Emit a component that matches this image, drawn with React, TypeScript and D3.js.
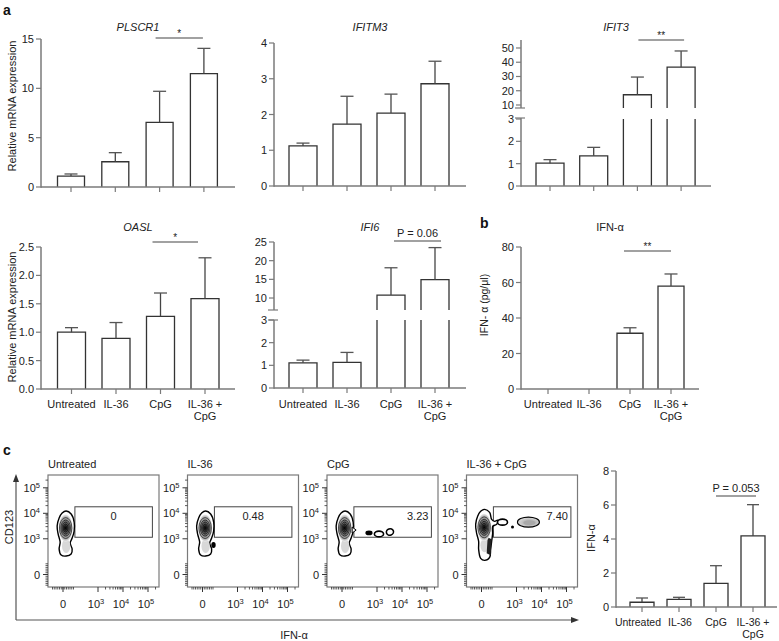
import React from 'react';
import * as d3 from 'd3';

const FONT = '"Liberation Sans", Arial, Helvetica, sans-serif';
const AXIS = '#7a7a7a';
const INK = '#222';

const categories = ['Untreated', 'IL-36', 'CpG', 'IL-36 + CpG'];
const categoryLines: string[][] = [['Untreated'], ['IL-36'], ['CpG'], ['IL-36 +', 'CpG']];

const plscr1Mean = [1.11, 2.56, 6.55, 11.5];
const plscr1Upper = [1.32, 3.48, 9.7, 14.05];
const ifitm3Mean = [1.12, 1.73, 2.04, 2.86];
const ifitm3Upper = [1.2, 2.51, 2.57, 3.49];
const ifit3Mean = [1.02, 1.35, 17.2, 36.5];
const ifit3Upper = [1.18, 1.73, 29.6, 47.9];
const oaslMean = [1.0, 0.89, 1.28, 1.59];
const oaslUpper = [1.08, 1.17, 1.69, 2.31];
const ifi6Mean = [1.11, 1.13, 10.8, 14.9];
const ifi6Upper = [1.23, 1.57, 18.1, 23.5];
const elisaMean = [0, 0, 31.4, 58];
const elisaUpper = [0, 0, 34.5, 64.8];
const flowBarMean = [0.28, 0.45, 1.39, 4.18];
const flowBarUpper = [0.53, 0.57, 2.43, 6.02];

const plscr1Ticks = [0, 5, 10, 15];
const ifitm3Ticks = [0, 1, 2, 3, 4];
const ifit3LowerTicks = [0, 1, 2, 3];
const ifit3UpperTicks = [10, 20, 30, 40, 50];
const oaslTicks = [0, 0.5, 1, 1.5, 2, 2.5];
const ifi6LowerTicks = [0, 1, 2, 3];
const ifi6UpperTicks = [10, 15, 20, 25];
const elisaTicks = [0, 20, 40, 60, 80];
const flowBarTicks = [0, 2, 4, 6, 8];

// flow cytometry
const flowTitles = ['Untreated', 'IL-36', 'CpG', 'IL-36 + CpG'];
const gatePercents = ['0', '0.48', '3.23', '7.40'];
const gateX = [340, 150000];
const gateY = [1150, 18000];
const mainPopX = [90, 90, 90, 90];
const mainPopY = [2200, 2200, 2200, 2350];
type Ev = { x: number; y: number; kind: 'dot' | 'ring' | 'gray'; rx: number; ry: number; rot?: number };
const gatedEvents: Ev[][] = [
  [],
  [{ x: 314, y: 827, kind: 'dot', rx: 2.2, ry: 3 }],
  [
    { x: 771, y: 1700, kind: 'dot', rx: 3.6, ry: 2.3 },
    { x: 1200, y: 1550, kind: 'ring', rx: 4.6, ry: 2.8 },
    { x: 3300, y: 1850, kind: 'ring', rx: 3.6, ry: 3.2, rot: -20 },
  ],
  [
    { x: 600, y: 4500, kind: 'ring', rx: 5, ry: 3 },
    { x: 886, y: 2900, kind: 'dot', rx: 1.5, ry: 1.5 },
    { x: 3000, y: 4500, kind: 'gray', rx: 11, ry: 5 },
  ],
];
const flowMajorTicks = [0, 1e3, 1e4, 1e5];
const flowMajorExp = ['', '3', '4', '5'];

const fmtInt = (v: number) => String(v);
const fmt1 = (v: number) => v.toFixed(1);

type Seg = { domain: [number, number]; range: [number, number]; ticks: number[]; axisTop?: number };
type BarProps = {
  x0: number; axisEnd: number; first: number; step: number; barW: number; capW: number;
  segs: Seg[]; mean: number[]; upper: number[]; fmt?: (v: number) => string;
  title?: string; italic?: boolean; titleY?: number;
  sig?: { text: string; y: number; d1: number; d2: number };
  labelY?: number; labelDx?: number[]; labelSize?: number;
};

function BarChart(p: BarProps) {
  const x = d3.scalePoint<string>().domain(categories).range([p.x0 + p.first, p.x0 + p.first + 3 * p.step]);
  const scales = p.segs.map((s) => d3.scaleLinear().domain(s.domain).range(s.range));
  const bottom = p.segs[0].range[0];
  const fmt = p.fmt || fmtInt;
  const els: any[] = [];
  categories.forEach((c, i) => {
    const v = p.mean[i];
    if (v <= 0) return;
    const cx = x(c)!;
    const l = cx - p.barW / 2, r = cx + p.barW / 2;
    p.segs.forEach((s, si) => {
      const lo = s.domain[0], hi = s.domain[1];
      if (v <= lo) return;
      const top = Math.min(v, hi);
      const y = scales[si];
      const yT = y(top), yB = y(si === 0 ? 0 : lo);
      const closed = v <= hi;
      els.push(<rect key={`f${i}-${si}`} x={l} y={yT} width={p.barW} height={yB - yT} fill="#fff" />);
      const d = closed ? `M${l},${yB}V${yT}H${r}V${yB}` : `M${l},${yB}V${yT}M${r},${yT}V${yB}`;
      els.push(<path key={`b${i}-${si}`} d={d} fill="none" stroke="#333" strokeWidth={1.3} />);
    });
    const u = p.upper[i];
    const si = p.segs.findIndex((s) => u <= s.domain[1] && u >= s.domain[0]);
    if (si >= 0) {
      const y = scales[si];
      const y1 = y(Math.max(v, p.segs[si].domain[0]));
      const y2 = y(u);
      els.push(<line key={`e${i}`} x1={cx} x2={cx} y1={y1} y2={y2} stroke="#444" strokeWidth={1.3} />);
      els.push(<line key={`c${i}`} x1={cx - p.capW / 2} x2={cx + p.capW / 2} y1={y2} y2={y2} stroke="#555" strokeWidth={1.3} />);
    }
  });
  const axes: any[] = [];
  p.segs.forEach((s, si) => {
    const y = scales[si];
    const top = s.axisTop ?? s.range[1];
    axes.push(<line key={`ax${si}`} x1={p.x0} x2={p.x0} y1={si === 0 ? bottom + 0.7 : s.range[0]} y2={top} stroke={AXIS} strokeWidth={1.5} />);
    s.ticks.forEach((t) => {
      axes.push(<line key={`t${si}-${t}`} x1={p.x0 - 5} x2={p.x0} y1={y(t)} y2={y(t)} stroke={AXIS} strokeWidth={1.2} />);
      axes.push(
        <text key={`tl${si}-${t}`} x={p.x0 - 7} y={y(t) + 4} textAnchor="end" fontSize={11} fill={INK}>{fmt(t)}</text>
      );
    });
  });
  if (p.segs.length > 1) {
    const lt = p.segs[0].axisTop ?? p.segs[0].range[1];
    const ub = p.segs[1].range[0];
    [lt, ub].forEach((yy, k) => axes.push(<line key={`br${k}`} x1={p.x0 - 6} x2={p.x0 + 4} y1={yy} y2={yy} stroke={AXIS} strokeWidth={1.2} />));
  }
  axes.push(<line key="xa" x1={p.x0} x2={p.axisEnd} y1={bottom} y2={bottom} stroke={AXIS} strokeWidth={1.5} />);
  categories.forEach((c) => axes.push(<line key={`xt${c}`} x1={x(c)} x2={x(c)} y1={bottom} y2={bottom + 5} stroke={AXIS} strokeWidth={1.2} />));
  const labels: any[] = [];
  if (p.labelY) {
    categories.forEach((c, i) => {
      const dx = p.labelDx ? p.labelDx[i] : 0;
      categoryLines[i].forEach((ln, k) => labels.push(
        <text key={`lab${i}-${k}`} x={x(c)! + dx} y={p.labelY! + k * 12} textAnchor="middle" fontSize={p.labelSize || 11} fill={INK}>{ln}</text>
      ));
    });
  }
  let sig = null;
  if (p.sig) {
    const a = x(categories[2])! + p.sig.d1, b = x(categories[3])! + p.sig.d2;
    sig = (
      <g>
        <line x1={a} x2={b} y1={p.sig.y} y2={p.sig.y} stroke="#444" strokeWidth={1.2} />
        <text x={(a + b) / 2} y={p.sig.y - (p.sig.text.startsWith('*') ? 1 : 4)} textAnchor="middle" fontSize={p.sig.text.startsWith('*') ? 10 : 11} fill={INK}>{p.sig.text}</text>
      </g>
    );
  }
  return (
    <g>
      {els}
      {axes}
      {labels}
      {sig}
      {p.title && (
        <text x={(p.x0 + p.axisEnd) / 2} y={p.titleY} textAnchor="middle" fontSize={11} fontStyle={p.italic ? 'italic' : 'normal'} fill={INK}>{p.title}</text>
      )}
    </g>
  );
}

const T = (v: number) => (v >= 1000 ? 1.4 + Math.log10(v) - 3 : (1.4 * v) / 1000);

function Sup({ base, exp }: { base: string; exp: string }) {
  return (
    <>
      {base}
      {exp && <tspan dy={-4} fontSize={7.5}>{exp}</tspan>}
    </>
  );
}

function FlowPlot({ idx, left }: { idx: number; left: number }) {
  const top = 475, bottom = 587, right = left + 111;
  const fx = d3.scaleLinear().domain([0, 3.4]).range([left + 15, left + 100]);
  const fy = d3.scaleLinear().domain([0, 3.4]).range([574.5, 487.8]);
  const px = (v: number) => fx(T(v));
  const py = (v: number) => fy(T(v));
  const minor = [
    ...d3.range(-300, 301, 50),
    ...d3.range(2, 10).map((k) => k * 1e3),
    ...d3.range(2, 10).map((k) => k * 1e4),
    2e5,
  ];
  const majors = [1e3, 1e4, 1e5];
  const cx = px(mainPopX[idx]), cy = py(mainPopY[idx]);
  const outline: [number, number][] = idx === 3
    ? [[0, -20], [5, -17], [7, -10], [10, -8], [13, -9], [12, -5], [8, -3], [8, 4], [7, 12], [6, 20], [5, 28], [0, 31], [-4, 29], [-6, 20], [-6, 12], [-8, 4], [-9, -5], [-7, -13], [-4, -18]]
    : [[0, -19], [5, -16], [8, -8], [8, 1], [6, 8], [4, 13], [6, 19], [5, 24], [0, 26], [-5, 25], [-7, 19], [-6, 12], [-8, 4], [-9, -4], [-7, -12], [-4, -17]];
  const line = d3.line().curve(d3.curveCatmullRomClosed);
  const od = line(outline.map(([a, b]) => [cx + a, cy + b]));
  const gid = `g${idx}`;
  const rings = [[6.2, 10.5], [4.8, 8], [3.6, 6], [2.4, 4], [1.3, 2.2]];
  const gl = px(gateX[0]), gr = px(gateX[1]);
  const gt = py(gateY[1]), gb = py(gateY[0]);
  const labelRight = idx >= 2;
  return (
    <g>
      <defs>
        <radialGradient id={gid} cx="50%" cy="50%" r="50%">
          <stop offset="0%" stopColor="#111" />
          <stop offset="45%" stopColor="#666" />
          <stop offset="85%" stopColor="#bbb" />
          <stop offset="100%" stopColor="#eee" />
        </radialGradient>
        <radialGradient id={`${gid}g`} cx="55%" cy="55%" r="55%">
          <stop offset="0%" stopColor="#999" />
          <stop offset="100%" stopColor="#ddd" />
        </radialGradient>
      </defs>
      <text x={left} y={468} fontSize={11} fill={INK}>{flowTitles[idx]}</text>
      <rect x={left} y={top} width={right - left} height={bottom - top} fill="#fff" stroke={AXIS} strokeWidth={1.2} />
      {minor.map((v, i) => (
        <line key={`ym${i}`} x1={left - 2.5} x2={left} y1={py(v)} y2={py(v)} stroke="#333" strokeWidth={0.8} />
      ))}
      {minor.map((v, i) => (
        <line key={`xm${i}`} x1={px(v)} x2={px(v)} y1={bottom} y2={bottom + 2.5} stroke="#333" strokeWidth={0.8} />
      ))}
      {[0, ...majors].map((v, i) => (
        <g key={`mj${i}`}>
          <line x1={left - 5} x2={left} y1={py(v)} y2={py(v)} stroke="#333" strokeWidth={1} />
          <line x1={px(v)} x2={px(v)} y1={bottom} y2={bottom + 5} stroke="#333" strokeWidth={1} />
        </g>
      ))}
      {flowMajorTicks.map((v, i) => (
        <text key={`yl${i}`} x={left - 8} y={py(v) + 4} textAnchor="end" fontSize={11} fill={INK}>
          <Sup base={i === 0 ? '0' : '10'} exp={flowMajorExp[i]} />
        </text>
      ))}
      {flowMajorTicks.map((v, i) => (
        <text key={`xl${i}`} x={px(v) - (i === 0 ? 0 : 2)} y={608} textAnchor="middle" fontSize={11} fill={INK}>
          <Sup base={i === 0 ? '0' : '10'} exp={flowMajorExp[i]} />
        </text>
      ))}
      <rect x={gl} y={gt} width={gr - gl} height={gb - gt} fill="none" stroke="#444" strokeWidth={1} />
      <text x={labelRight ? gr - 3 : (gl + gr) / 2} y={gt + 13} textAnchor={labelRight ? 'end' : 'middle'} fontSize={11} fill={INK}>{gatePercents[idx]}</text>
      <path d={od!} fill="#fff" stroke="#000" strokeWidth={1.4} />
      <ellipse cx={cx} cy={cy + 16} rx={4.2} ry={7} fill="#d8d8d8" />
      {idx === 3 && <path d={`M${cx + 3},${cy + 8} L${cx + 7},${cy + 10} L${cx + 6},${cy + 26} L${cx + 2},${cy + 24}Z`} fill="#222" />}
      <ellipse cx={cx - 0.5} cy={cy - 2} rx={7.2} ry={13.5} fill={`url(#${gid})`} />
      {rings.map(([rx, ry], i) => (
        <ellipse key={`r${i}`} cx={cx - 0.5} cy={cy - 2} rx={rx} ry={ry} fill="none" stroke="#000" strokeWidth={0.7} opacity={0.85} />
      ))}
      <circle cx={cx - 0.5} cy={cy - 2} r={0.8} fill="#000" />
      {idx === 2 && <path d={`M${cx + 7},${cy - 3} L${cx + 11},${cy} L${cx + 7},${cy + 3}Z`} fill="#fff" stroke="#000" strokeWidth={1} />}
      {gatedEvents[idx].map((e, i) => {
        const ex = px(e.x), ey = py(e.y);
        const tr = e.rot ? `rotate(${e.rot},${ex},${ey})` : undefined;
        if (e.kind === 'dot') return <ellipse key={`ev${i}`} cx={ex} cy={ey} rx={e.rx} ry={e.ry} fill="#000" transform={tr} />;
        if (e.kind === 'ring') return <ellipse key={`ev${i}`} cx={ex} cy={ey} rx={e.rx} ry={e.ry} fill="#fff" stroke="#000" strokeWidth={1.6} transform={tr} />;
        return (
          <g key={`ev${i}`}>
            <ellipse cx={ex} cy={ey} rx={e.rx} ry={e.ry} fill={`url(#${gid}g)`} stroke="#000" strokeWidth={1.1} />
            <ellipse cx={ex + 1} cy={ey + 0.5} rx={e.rx * 0.55} ry={e.ry * 0.5} fill="#a8a8a8" />
          </g>
        );
      })}
    </g>
  );
}

export default function App() {
  const flowLefts = d3.range(4).map((i) => 48 + i * 139.5);
  return (
    <svg width={779} height={641} style={{ position: 'absolute', left: 0, top: 0, background: '#fff' }} fontFamily={FONT}>
      <rect width={779} height={641} fill="#fff" />
      <text x={3} y={15} fontSize={14} fontWeight="bold" fill="#111">a</text>
      <text x={480} y={228} fontSize={14} fontWeight="bold" fill="#111">b</text>
      <text x={3} y={455} fontSize={14} fontWeight="bold" fill="#111">c</text>

      <text transform="translate(16,106) rotate(-90)" textAnchor="middle" fontSize={11} fill={INK}>Relative mRNA expression</text>
      <text transform="translate(16,317) rotate(-90)" textAnchor="middle" fontSize={11} fill={INK}>Relative mRNA expression</text>
      <text transform="translate(488,305) rotate(-90)" textAnchor="middle" fontSize={10.5} fill={INK}>IFN- α (pg/μl)</text>
      <text transform="translate(595,538) rotate(-90)" textAnchor="middle" fontSize={11} fill={INK}>IFN-α</text>

      <BarChart x0={41} axisEnd={235} first={30} step={44.3} barW={27} capW={13}
        segs={[{ domain: [0, 15], range: [187, 39], ticks: plscr1Ticks }]}
        mean={plscr1Mean} upper={plscr1Upper} title="PLSCR1" italic titleY={31}
        sig={{ text: '*', y: 38, d1: -4, d2: -1 }} />
      <BarChart x0={274} axisEnd={466} first={29} step={44} barW={28} capW={13}
        segs={[{ domain: [0, 4], range: [186, 43], ticks: ifitm3Ticks }]}
        mean={ifitm3Mean} upper={ifitm3Upper} title="IFITM3" italic titleY={31} />
      <BarChart x0={521} axisEnd={711} first={29} step={43.7} barW={28} capW={13}
        segs={[
          { domain: [0, 3], range: [186, 119], ticks: ifit3LowerTicks, axisTop: 118 },
          { domain: [7.89, 55.6], range: [108, 40], ticks: ifit3UpperTicks },
        ]}
        mean={ifit3Mean} upper={ifit3Upper} title="IFIT3" italic titleY={31}
        sig={{ text: '**', y: 40, d1: 1, d2: 3 }} />

      <BarChart x0={41} axisEnd={235} first={30.5} step={44.5} barW={28} capW={13}
        segs={[{ domain: [0, 2.5], range: [389, 247], ticks: oaslTicks }]} fmt={fmt1}
        mean={oaslMean} upper={oaslUpper} title="OASL" italic titleY={231}
        sig={{ text: '*', y: 242, d1: -8, d2: -7 }} labelY={408} />
      <BarChart x0={274} axisEnd={466} first={29} step={44} barW={28} capW={13}
        segs={[
          { domain: [0, 3], range: [388, 320], ticks: ifi6LowerTicks },
          { domain: [6.79, 25], range: [310, 242], ticks: ifi6UpperTicks },
        ]}
        mean={ifi6Mean} upper={ifi6Upper} title="IFI6" italic titleY={231}
        sig={{ text: 'P = 0.06', y: 241, d1: 3, d2: 6 }} labelY={408} />
      <BarChart x0={521} axisEnd={699} first={27} step={41} barW={26} capW={13}
        segs={[{ domain: [0, 80], range: [389, 247], ticks: elisaTicks }]}
        mean={elisaMean} upper={elisaUpper} title="IFN-α" titleY={231}
        sig={{ text: '**', y: 251, d1: -6, d2: 0 }} labelY={408} />

      {flowLefts.map((l, i) => <FlowPlot key={i} idx={i} left={l} />)}
      <line x1={16} x2={16} y1={620} y2={480} stroke="#555" strokeWidth={1.2} />
      <path d="M16,474 L13,482 L19,482Z" fill="#333" />
      <line x1={16} x2={572} y1={620} y2={620} stroke="#555" strokeWidth={1.2} />
      <path d="M579,620 L571,617 L571,623Z" fill="#333" />
      <text transform="translate(13,527) rotate(-90)" textAnchor="middle" fontSize={11} fill={INK}>CD123</text>
      <text x={294} y={639} textAnchor="middle" fontSize={11} fill={INK}>IFN-α</text>

      <BarChart x0={616} axisEnd={777} first={26} step={37} barW={24} capW={12}
        segs={[{ domain: [0, 8], range: [607, 471], ticks: flowBarTicks }]}
        mean={flowBarMean} upper={flowBarUpper}
        sig={{ text: 'P = 0.053', y: 496, d1: 0, d2: 3 }} labelY={626} labelDx={[-4, 1, 0, 0]} labelSize={10.5} />
    </svg>
  );
}
